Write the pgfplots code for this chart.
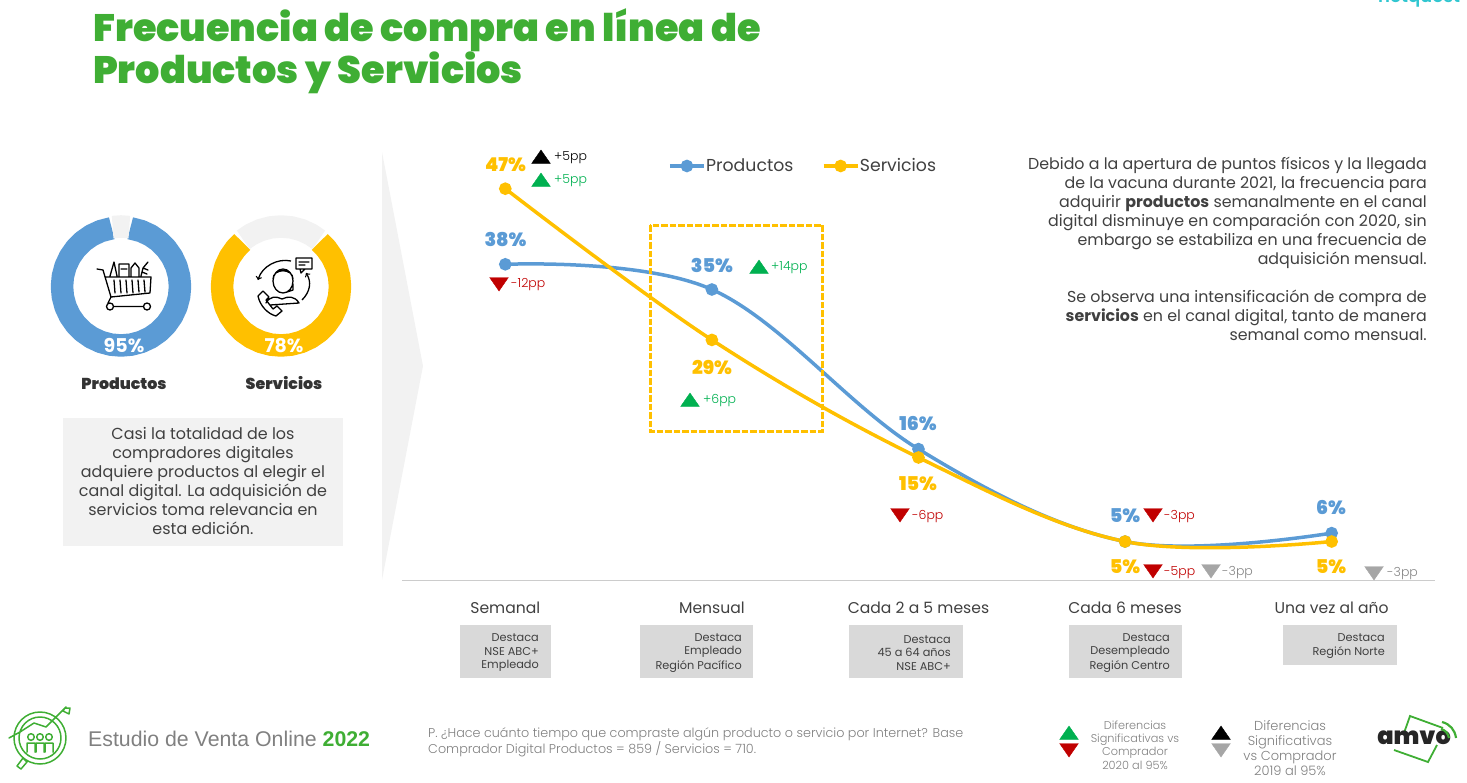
\documentclass[border=0pt]{standalone}
\usepackage{fontspec}
\usepackage{pgfplots}
\pgfplotsset{compat=1.18}
\usepgfplotslibrary{polar}
\setmainfont{Poppins}
\newfontfamily\pblack{Poppins Black}
\newfontfamily\plight{Poppins Light}
\newfontfamily\psemi{Poppins SemiBold}
\newfontfamily\arial{Liberation Sans}
\definecolor{azul}{HTML}{5B9BD5}
\definecolor{oro}{HTML}{FFC000}
\definecolor{verde}{HTML}{3FAE34}
\definecolor{sube}{HTML}{00B050}
\definecolor{baja}{HTML}{C00000}
\definecolor{gris}{HTML}{A6A6A6}
\definecolor{texto}{HTML}{404040}
\definecolor{fondo}{HTML}{F2F2F2}
\definecolor{caja}{HTML}{D9D9D9}
\definecolor{nq}{HTML}{30C6D0}
\newcommand{\fs}[1]{\fontsize{#1}{#1}\selectfont}
\tikzset{
  pct/.style={font=\pblack\fs{19},yshift=-0.8pt},
  pp/.style={font=\plight\fs{12.5},anchor=west,inner sep=0pt},
  destaca/.style={font=\fs{11.3},text=texto,anchor=east,inner sep=0pt},
}
\begin{document}
\begin{tikzpicture}
\path[use as bounding box] (0,0) rectangle (1467pt,782pt);

% line chart: 206.6 px per category, 8.4 px per point
\begin{axis}[
    at={(402pt,201pt)}, anchor=south west,
    width=1033pt, height=417.5pt, scale only axis,
    xmin=-0.5, xmax=4.5, ymin=0.3, ymax=50,
    axis x line=bottom, axis y line=none,
    axis line style={-, color=black!20, line width=1pt},
    xtick={0,1,2,3,4},
    xticklabels={Semanal,Mensual,Cada 2 a 5 meses,Cada 6 meses,Una vez al año},
    major tick length=0pt,
    xticklabel style={font=\fs{15.6}, text=texto, yshift=-17pt},
    clip=false,
    legend style={at={(rel axis cs:0.2575,0.994)}, anchor=west, draw=none, fill=none,
        legend columns=2, font=\fs{17.3}, text=texto, inner sep=0pt,
        nodes={inner xsep=0.5pt},
        /tikz/every even column/.append style={column sep=28pt}},
    legend image code/.code={\draw[#1,sharp plot,mark repeat=2,mark phase=2] plot coordinates {(0pt,0pt)(17pt,0pt)(34pt,0pt)};},
    legend cell align=left,
]
\addplot[color=azul, line width=3.5pt, smooth, tension=0.6, mark=*, mark size=4.5pt,
    mark options={solid}] coordinates {(0,38) (1,35) (2,16) (3,5) (4,6)};
\addlegendentry{Productos}
\addplot[color=oro, line width=3.5pt, smooth, tension=0.6, mark=*, mark size=4.5pt,
    mark options={solid}] coordinates {(0,47) (1,29) (2,15) (3,5) (4,5)};
\addlegendentry{Servicios}
\end{axis}

% donuts, radius in px
\begin{polaraxis}[at={(121pt,495.5pt)}, anchor=center, width=142pt, height=142pt, scale only axis,
    xmin=0, xmax=360, ymin=0, ymax=71, hide axis, clip=false]
\addplot[color=azul, line width=22.5pt, line join=round, no marks] coordinates {
  (99,59)(110,59)(120,59)(130,59)(140,59)(150,59)(160,59)(170,59)(180,59)(190,59)
  (200,59)(210,59)(220,59)(230,59)(240,59)(250,59)(260,59)(270,59)(280,59)(290,59)
  (300,59)(310,59)(320,59)(330,59)(340,59)(350,59)(360,59)(370,59)(380,59)(390,59)
  (400,59)(410,59)(420,59)(430,59)(441,59)};
\addplot[color=fondo, line width=22.5pt, no marks] coordinates {(82,60)(90,60)(98,60)};
\end{polaraxis}
\begin{polaraxis}[at={(281pt,495.5pt)}, anchor=center, width=142pt, height=142pt, scale only axis,
    xmin=0, xmax=360, ymin=0, ymax=71, hide axis, clip=false]
\addplot[color=oro, line width=22.5pt, line join=round, no marks] coordinates {
  (131,59)(140,59)(150,59)(160,59)(170,59)(180,59)(190,59)(200,59)(210,59)(220,59)
  (230,59)(240,59)(250,59)(260,59)(270,59)(280,59)(290,59)(300,59)(310,59)(320,59)
  (330,59)(340,59)(350,59)(360,59)(370,59)(380,59)(390,59)(400,59)(409,59)};
\addplot[color=fondo, line width=22.5pt, line join=round, no marks] coordinates {
  (51,60)(60,60)(70,60)(80,60)(90,60)(100,60)(110,60)(120,60)(129,60)};
\end{polaraxis}

% everything else, in reference pixels
\begin{axis}[
    at={(0pt,0pt)}, anchor=south west,
    width=1467pt, height=782pt, scale only axis,
    xmin=0, xmax=1467, ymin=0, ymax=782, y dir=reverse,
    hide axis, clip=false,
]
\fill[fondo] (382,152) -- (423,366) -- (382,580) -- cycle;
\fill[fondo] (63,418) rectangle (343,546);
\fill[caja] (460,625) rectangle (551,678);
\fill[caja] (640,625) rectangle (753,678);
\fill[caja] (849,625) rectangle (963,678);
\fill[caja] (1069,625) rectangle (1182,678);
\fill[caja] (1283,625) rectangle (1397,665);
\draw[oro, line width=3pt, dash pattern=on 6.5pt off 2pt] (650,225) rectangle (822.5,431);

\addplot[only marks, mark=triangle*, mark size=9pt, color=sube, mark options={xscale=1.2}]
  coordinates {(541,182) (759,269) (690,402) (1069,735)};
\addplot[only marks, mark=triangle*, mark size=9pt, color=black, mark options={xscale=1.2}]
  coordinates {(541,159) (1221,735)};
\addplot[only marks, mark=triangle*, mark size=9pt, color=baja, mark options={rotate=180,xscale=1.2}]
  coordinates {(499,282) (900,513) (1153,513) (1153,569) (1069,748)};
\addplot[only marks, mark=triangle*, mark size=9pt, color=gris, mark options={rotate=180,xscale=1.2}]
  coordinates {(1211,569) (1374,571) (1221,748)};

% title and corner mark
\node[anchor=base west, inner sep=0pt, font=\pblack\fs{38.2}, text=verde] at (93,41) {Frecuencia de compra en línea de};
\node[anchor=base west, inner sep=0pt, font=\pblack\fs{38.2}, text=verde] at (93,83) {Productos y Servicios};
\node[anchor=base west, inner sep=0pt, font=\psemi\fs{18}, text=nq] at (1378,2) {netquest};

% value labels
\node[pct, text=oro] at (505.5,164) {47\%};
\node[pct, text=azul] at (505.5,239) {38\%};
\node[pct, text=azul] at (712,265) {35\%};
\node[pct, text=oro] at (712,367) {29\%};
\node[pct, text=azul] at (918,423) {16\%};
\node[pct, text=oro] at (918,483) {15\%};
\node[pct, text=azul] at (1125,515) {5\%};
\node[pct, text=oro] at (1125,566) {5\%};
\node[pct, text=azul] at (1331,507) {6\%};
\node[pct, text=oro] at (1331,566) {5\%};

% point differences
\node[pp, text=black] at (554,158) {+5pp};
\node[pp, text=sube] at (554,181) {+5pp};
\node[pp, text=sube] at (771,268) {+14pp};
\node[pp, text=sube] at (703,401) {+6pp};
\node[pp, text=baja] at (511,285) {-12pp};
\node[pp, text=baja] at (912,517) {-6pp};
\node[pp, text=baja] at (1164,517) {-3pp};
\node[pp, text=baja] at (1164,573) {-5pp};
\node[pp, text=gris!80!black] at (1222,573) {-3pp};
\node[pp, text=gris!80!black] at (1387,574) {-3pp};

% destaca boxes
\node[destaca, align=right] at (539,653) {Destaca\\[2.2pt]NSE ABC+\\[2.2pt]Empleado};
\node[destaca, align=right] at (742,653) {Destaca\\[2.2pt]Empleado\\[2.2pt]Región Pacífico};
\node[destaca, align=right] at (951,653) {Destaca\\[2.2pt]45 a 64 años\\[2.2pt]NSE ABC+};
\node[destaca, align=right] at (1170,653) {Destaca\\[2.2pt]Desempleado\\[2.2pt]Región Centro};
\node[destaca, align=right] at (1385,646) {Destaca\\[2.2pt]Región Norte};

% right hand text
\node[anchor=north east, align=right, inner sep=0pt, text=texto, font=\fontsize{15.85}{19}\selectfont] at (1427,157) {%
Debido a la apertura de puntos físicos y la llegada\\
de la vacuna durante 2021, la frecuencia para\\
adquirir {\bfseries productos} semanalmente en el canal\\
digital disminuye en comparación con 2020, sin\\
embargo se estabiliza en una frecuencia de\\
adquisición mensual.\\[19pt]
Se observa una intensificación de compra de\\
{\bfseries servicios} en el canal digital, tanto de manera\\
semanal como mensual.};

% left column
\node[align=center, inner sep=0pt, text=texto, font=\fontsize{15.95}{19}\selectfont] at (203,481) {%
Casi la totalidad de los\\
compradores digitales\\
adquiere productos al elegir el\\
canal digital. La adquisición de\\
servicios toma relevancia en\\
esta edición.};
\node[font=\bfseries\fs{19}, text=white] at (124,346) {95\%};
\node[font=\bfseries\fs{19}, text=white] at (284,346) {78\%};
\node[anchor=base, inner sep=0pt, font=\pblack\fs{15.8}, text=texto!80!black] at (124,389) {Productos};
\node[anchor=base, inner sep=0pt, font=\pblack\fs{15.8}, text=texto!80!black] at (284,389) {Servicios};

% cart icon
\draw[line width=1.3pt, black, line cap=round, line join=round]
  (97,269) -- (103,270) -- (111,297) -- (150,293) -- (151,277) -- (106,277)
  (114,280) -- (115,293) (120,280) -- (121,293) (126,280) -- (127,293)
  (132,280) -- (133,293) (138,280) -- (139,292) (144,280) -- (145,292)
  (111,297) -- (108,303) (114,306.5) -- (143,306.5)
  (110,306.5) circle (3.5pt) (147,306.5) circle (3.5pt)
  (110,276) -- (114,262) -- (117,276)
  (119,276) -- (119,264) -- (129,264) -- (129,276)
  (121,269) -- (127,269)
  (131,276) -- (131,268) -- (135,263) -- (139,268) -- (139,276)
  (141,276) -- (143,268) -- (148,262) (143,268) -- (148,270) (142,272) -- (147,274);

% agent icon
\draw[line width=1.3pt, black, line cap=round, line join=round]
  (283,281) ellipse (10pt and 12pt)
  (273,279) .. controls (273,268) and (293,268) .. (293,279)
  (266,303) .. controls (270,296) and (276,296) .. (282,299) .. controls (288,296) and (295,296) .. (299,303) -- (270,305)
  (293,284) -- (293,290) -- (287,292)
  (296,258) rectangle (312,269) (300,269) -- (301,273) -- (305,269) (299,262) -- (309,262) (299,265) -- (305,265)
  (258,296) -- (263,291) -- (269,297) -- (266,300) -- (273,309) -- (277,306) -- (282,311) -- (276,316) .. controls (268,314) and (260,306) .. (258,296);
\draw[->, line width=1.3pt, black] (291,261) .. controls (278,258) and (262,266) .. (258,280);
\draw[->, line width=1.3pt, black] (302,300) .. controls (310,292) and (312,282) .. (306,273);

% footer
\node[anchor=base west, inner sep=0pt, font=\arial\fs{21.3}, text=black!50] at (88,746) {Estudio de Venta Online \textcolor{verde}{\bfseries 2022}};
\node[anchor=west, align=left, inner sep=0pt, text=black!50, font=\plight\fontsize{12.75}{16}\selectfont] at (428,742.5) {%
P. ¿Hace cuánto tiempo que compraste algún producto o servicio por Internet? Base\\
Comprador Digital Productos = 859 / Servicios = 710.};
\node[align=center, inner sep=0pt, text=black!50, font=\plight\fontsize{11.3}{13.4}\selectfont] at (1135,745) {%
Diferencias\\Significativas vs\\Comprador\\2020 al 95\%};
\node[align=center, inner sep=0pt, text=black!50, font=\plight\fontsize{13}{15.2}\selectfont] at (1290,748) {%
Diferencias\\Significativas\\vs Comprador\\2019 al 95\%};

% magnifier logo
\draw[verde, line width=1.5pt, line cap=round, line join=round]
  (40,738) circle (26pt) (40,738) circle (21pt)
  (27,762) -- (21,769) -- (17,766) -- (23,758) -- cycle
  (9,738) -- (20,732) -- (34,723) -- (46,727) -- (66,707)
  (65,708) -- (70,708) -- (69,714) -- (63,711) -- cycle
  (31,737) circle (3.3pt) (27,752) -- (27,743) -- (35,743) -- (35,752)
  (40,737) circle (3.3pt) (36,752) -- (36,743) -- (44,743) -- (44,752)
  (49,737) circle (3.3pt) (45,752) -- (45,743) -- (53,743) -- (53,752);

% amvo logo
\draw[verde, line width=1.8pt] (1404,733) -- (1410,716) -- (1443,728) (1394,750) -- (1428,762) -- (1437,745);
\node[font=\pblack\fs{24}, text=black!85, inner sep=0pt] at (1414,738) {amvo};
\draw[verde, line width=2.2pt] (1442,722) .. controls (1450,724) and (1455,730) .. (1456,738);
\draw[verde, line width=2.2pt] (1441,729) .. controls (1445,730) and (1448,733) .. (1449,738);
\end{axis}
\end{tikzpicture}
\end{document}
